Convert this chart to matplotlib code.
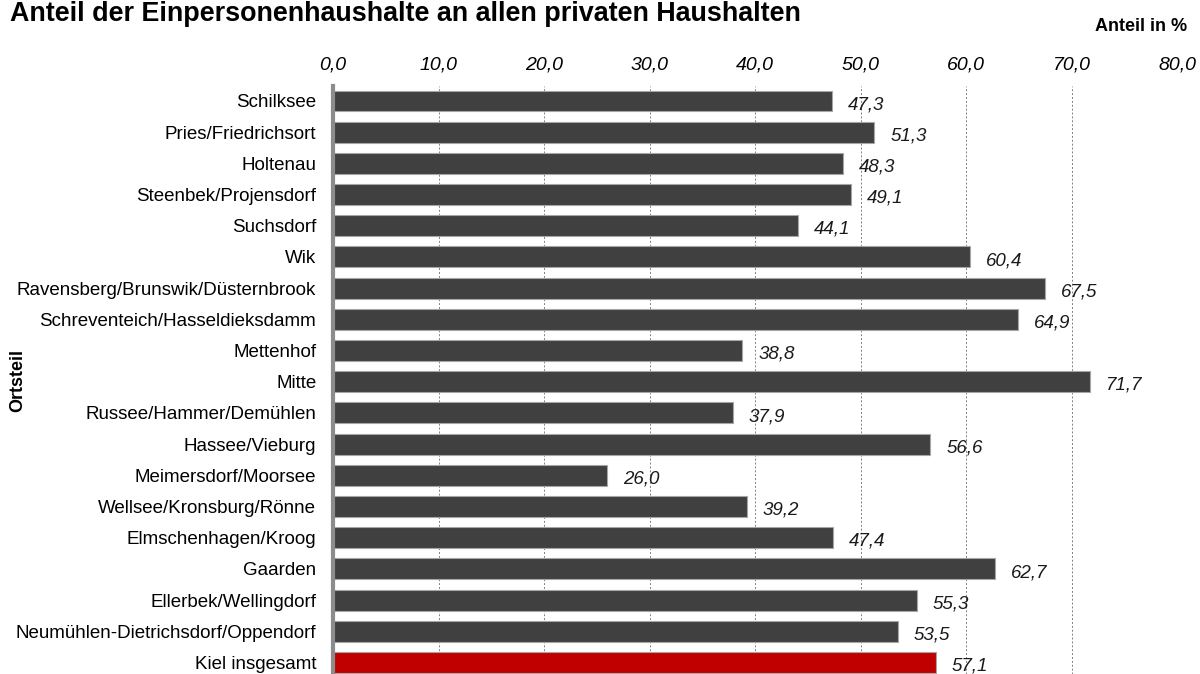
import matplotlib.pyplot as plt
import numpy as np

plt.rcParams['font.family'] = ['Liberation Sans', 'DejaVu Sans']

ortsteile = ["Schilksee", "Pries/Friedrichsort", "Holtenau", "Steenbek/Projensdorf",
             "Suchsdorf", "Wik", "Ravensberg/Brunswik/Düsternbrook",
             "Schreventeich/Hasseldieksdamm", "Mettenhof", "Mitte",
             "Russee/Hammer/Demühlen", "Hassee/Vieburg", "Meimersdorf/Moorsee",
             "Wellsee/Kronsburg/Rönne", "Elmschenhagen/Kroog", "Gaarden",
             "Ellerbek/Wellingdorf", "Neumühlen-Dietrichsdorf/Oppendorf",
             "Kiel insgesamt"]
anteil = [47.3, 51.3, 48.3, 49.1, 44.1, 60.4, 67.5, 64.9, 38.8, 71.7,
          37.9, 56.6, 26.0, 39.2, 47.4, 62.7, 55.3, 53.5, 57.1]
xticks = [0, 10, 20, 30, 40, 50, 60, 70, 80]

fig = plt.figure(figsize=(12, 6.74), dpi=100)
ax = fig.add_axes([0.2775, 0.0, 0.7035, 0.8724])

y = np.arange(len(ortsteile))
farben = ["#404040"] * (len(ortsteile) - 1) + ["#c00000"]
ax.barh(y, anteil, height=0.67, color=farben, edgecolor="#a6a6a6",
        linewidth=0.8, zorder=2)

# Werte rechts neben den Balken
for yi, v in zip(y, anteil):
    ax.text(v + 1.5, yi + 0.12, "{:.1f}".format(v).replace(".", ","),
            fontsize=13.5, style="italic", va="center", ha="left", color="#1a1a1a")

ax.set_xlim(0, 80)
ax.set_ylim(18.37, -0.48)
ax.set_xticks(xticks)
ax.set_xticklabels(["{:.1f}".format(t).replace(".", ",") for t in xticks],
                   fontsize=14, style="italic")
ax.xaxis.tick_top()
ax.tick_params(axis="x", length=0, pad=9)
ax.set_yticks(y)
ax.set_yticklabels(ortsteile, fontsize=13.5)
ax.tick_params(axis="y", length=0, pad=12)

ax.grid(axis="x", linestyle=(0, (2, 2)), color="#808080", linewidth=0.7, zorder=0)
for s in ["top", "right", "bottom"]:
    ax.spines[s].set_visible(False)
ax.spines["left"].set_color("#8c8c8c")
ax.spines["left"].set_linewidth(3)

fig.text(0.008, 0.979, "Anteil der Einpersonenhaushalte an allen privaten Haushalten",
         fontsize=19.4, fontweight="bold", va="center", ha="left")
fig.text(0.989, 0.96, "Anteil in %", fontsize=13, fontweight="bold",
         va="center", ha="right")
fig.text(0.015, 0.435, "Ortsteil", fontsize=13, fontweight="bold",
         rotation=90, va="center", ha="center")

fig.savefig("out.png")
